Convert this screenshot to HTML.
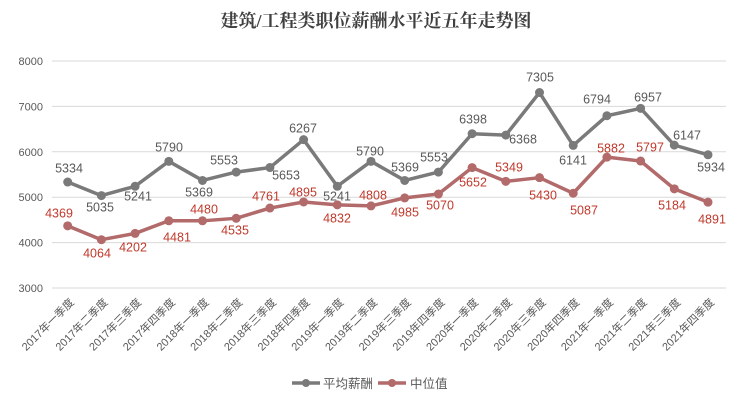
<!DOCTYPE html>
<html><head><meta charset="utf-8"><style>
html,body{margin:0;padding:0;background:#fff;}
svg{display:block;}
</style></head><body>
<svg id="c" width="748" height="405" xmlns="http://www.w3.org/2000/svg" font-family="Liberation Sans, Noto Sans CJK SC, sans-serif">
<text x="376" y="27" text-anchor="middle" font-family="Liberation Serif, Noto Serif CJK SC, serif" font-weight="bold" font-size="18" fill="#404040">建筑/工程类职位薪酬水平近五年走势图</text>
</svg>
<script>
var s=document.getElementById('c'),NS='http://www.w3.org/2000/svg';
function el(t,a,txt){var e=document.createElementNS(NS,t);for(var k in a)e.setAttribute(k,a[k]);if(txt!==undefined)e.textContent=txt;s.appendChild(e);return e;}
function Y(v){return 288-(v-3000)*0.0454;}
function X(i){return 67.7+33.7*i;}
for(var v=3000;v<=8000;v+=1000){var y=Y(v);el('line',{x1:52,x2:726,y1:y,y2:y,stroke:'#d9d9d9','stroke-width':1});
el('text',{x:43,y:y+4,'text-anchor':'end','font-size':'11',fill:'#595959'},v);}
var A=[5334,5035,5241,5790,5369,5553,5653,6267,5241,5790,5369,5553,6398,6368,7305,6141,6794,6957,6147,5934];
var M=[4369,4064,4202,4481,4480,4535,4761,4895,4832,4808,4985,5070,5652,5349,5430,5087,5882,5797,5184,4891];
var AL=[[69,168],[100,207],[138,196],[169,147],[199,192],[224,160],[286,175],[303,128],[337,196],[370,151],[405,167],[434,157],[473,119],[523,139],[540,77],[573,160],[597,99],[648,97],[687,135],[711,167]];
var ML=[[59,213],[97,253],[133,247],[177,237],[204,209],[235,230],[266,196],[303,192],[337,218],[373,195],[405,212],[440,205],[473,182],[509,167],[543,195],[584,210],[611,148],[650,147],[672,205],[712,219]];
function series(d,c,L,tc){var p='';for(var i=0;i<d.length;i++)p+=(i?'L':'M')+X(i)+' '+Y(d[i]);
el('path',{d:p,fill:'none',stroke:c,'stroke-width':3.5,'stroke-linejoin':'round'});
for(var i=0;i<d.length;i++){el('circle',{cx:X(i),cy:Y(d[i]),r:4.5,fill:c});
el('text',{x:L[i][0],y:L[i][1]+4.5,'text-anchor':'middle','font-size':'12.5',fill:tc},d[i]);}}
series(A,'#7a7a7a',AL,'#595959');
series(M,'#b26a6a',ML,'#c0392b');
var q=['一','二','三','四'];
for(var i=0;i<20;i++){var yr=2017+Math.floor(i/4);var x=X(i)+7,y=303;
el('text',{x:x,y:y,'text-anchor':'end','font-size':'11',fill:'#595959',transform:'rotate(-45 '+x+' '+y+')'},yr+'年'+q[i%4]+'季度');}
el('line',{x1:292,x2:320,y1:383,y2:383,stroke:'#7a7a7a','stroke-width':3.5});el('circle',{cx:306,cy:383,r:4,fill:'#7a7a7a'});
el('text',{x:323,y:388,'font-size':'12.5',fill:'#595959'},'平均薪酬');
el('line',{x1:378,x2:406,y1:383,y2:383,stroke:'#b26a6a','stroke-width':3.5});el('circle',{cx:392,cy:383,r:4,fill:'#b26a6a'});
el('text',{x:410,y:388,'font-size':'12.5',fill:'#595959'},'中位值');
</script>
</body></html>
